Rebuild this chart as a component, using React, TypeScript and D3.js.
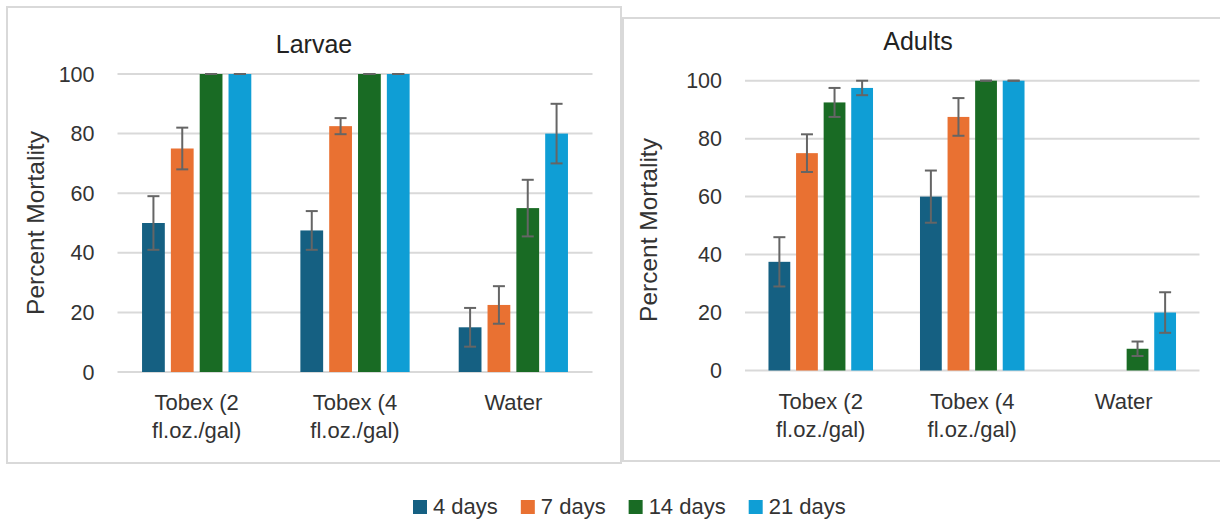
import React from 'react';
import * as d3 from 'd3';

const categories = ['Tobex (2|fl.oz./gal)', 'Tobex (4|fl.oz./gal)', 'Water'];
const series = ['4 days', '7 days', '14 days', '21 days'];
const colors = ['#156082', '#E97132', '#196B24', '#0F9ED5'];
const yTicks = [0, 20, 40, 60, 80, 100];

// values indexed [series][category]
const larvaeValues = [
  [50, 47.5, 15],
  [75, 82.5, 22.5],
  [100, 100, 55],
  [100, 100, 80],
];
const larvaeErrors = [
  [9, 6.5, 6.5],
  [7, 2.7, 6.3],
  [0, 0, 9.5],
  [0, 0, 10],
];
const adultValues = [
  [37.5, 60, 0],
  [75, 87.5, 0],
  [92.5, 100, 7.5],
  [97.5, 100, 20],
];
const adultErrors: (number | null)[][] = [
  [8.5, 9, null],
  [6.5, 6.5, null],
  [5, 0, 2.5],
  [2.5, 0, 7],
];

const FONT = "'Liberation Sans', Arial, sans-serif";
const TEXT = '#333333';

type PanelProps = {
  title: string;
  values: number[][];
  errors: (number | null)[][];
  frame: [number, number, number, number];
  plot: { x0: number; x1: number; top: number; bottom: number };
  titlePos: [number, number];
  yLabelPos: [number, number];
  catY: [number, number];
};

function Panel({ title, values, errors, frame, plot, titlePos, yLabelPos, catY }: PanelProps) {
  const x = d3.scaleBand<number>().domain(categories.map((_, i) => i)).range([plot.x0, plot.x1]).paddingInner(0.31).paddingOuter(0.155);
  const xs = d3.scaleBand<number>().domain(series.map((_, i) => i)).range([0, x.bandwidth()]).paddingInner(0.21);
  const y = d3.scaleLinear().domain([0, 100]).range([plot.bottom, plot.top]);
  const cap = 6;
  return (
    <g>
      <rect x={frame[0]} y={frame[1]} width={frame[2] - frame[0]} height={frame[3] - frame[1]} fill="#fff" stroke="#d9d9d9" strokeWidth={2} />
      <text x={titlePos[0]} y={titlePos[1]} textAnchor="middle" fontSize={25} fill="#222" fontFamily={FONT}>{title}</text>
      {yTicks.map((t) => (
        <g key={t}>
          <line x1={plot.x0} x2={plot.x1} y1={y(t)} y2={y(t)} stroke="#d9d9d9" strokeWidth={2} />
          <text x={plot.x0 - 23} y={y(t) + 7.5} textAnchor="end" fontSize={21.5} fill={TEXT} fontFamily={FONT}>{t}</text>
        </g>
      ))}
      <text transform={`translate(${yLabelPos[0]},${yLabelPos[1]}) rotate(-90)`} textAnchor="middle" fontSize={24.5} fill={TEXT} fontFamily={FONT}>Percent Mortality</text>
      {values.map((row, s) =>
        row.map((v, c) => {
          const bx = (x(c) ?? 0) + (xs(s) ?? 0);
          return (
            <rect key={`b${s}-${c}`} x={bx} y={y(v)} width={xs.bandwidth()} height={y(0) - y(v)} fill={colors[s]} />
          );
        })
      )}
      {values.map((row, s) =>
        row.map((v, c) => {
          const e = errors[s][c];
          if (e === null || e === undefined) return null;
          const cx = (x(c) ?? 0) + (xs(s) ?? 0) + xs.bandwidth() / 2;
          const hi = Math.min(100, v + e);
          const lo = v - e;
          return (
            <g key={`e${s}-${c}`} stroke="#656565" strokeWidth={2}>
              <line x1={cx} x2={cx} y1={y(hi)} y2={y(lo)} />
              <line x1={cx - cap} x2={cx + cap} y1={y(hi)} y2={y(hi)} />
              <line x1={cx - cap} x2={cx + cap} y1={y(lo)} y2={y(lo)} />
            </g>
          );
        })
      )}
      {categories.map((c, i) => {
        const cx = (x(i) ?? 0) + x.bandwidth() / 2;
        return c.split('|').map((line, k) => (
          <text key={`c${i}-${k}`} x={cx} y={catY[k]} textAnchor="middle" fontSize={22} fill={TEXT} fontFamily={FONT}>{line}</text>
        ));
      })}
    </g>
  );
}

function measure(text: string, font: string) {
  const ctx = document.createElement('canvas').getContext('2d');
  if (!ctx) return text.length * 11;
  ctx.font = font;
  return ctx.measureText(text).width;
}

function Legend({ x0, y0 }: { x0: number; y0: number }) {
  let cur = x0;
  const items = series.map((s, i) => {
    const w = measure(s, `22px ${FONT}`);
    const item = { s, i, x: cur };
    cur += 20 + w + 23;
    return item;
  });
  return (
    <g>
      {items.map((it) => (
        <g key={it.s}>
          <rect x={it.x} y={y0 - 14} width={14} height={14} fill={colors[it.i]} />
          <text x={it.x + 20} y={y0} fontSize={22} fill={TEXT} fontFamily={FONT}>{it.s}</text>
        </g>
      ))}
    </g>
  );
}

export default function App() {
  return (
    <svg width={1220} height={519} style={{ position: 'absolute', left: 0, top: 0, display: 'block', background: '#fff' }}>
      <rect x={0} y={0} width={1220} height={519} fill="#fff" />
      <Panel
        title="Larvae"
        values={larvaeValues}
        errors={larvaeErrors}
        frame={[7, 7, 621, 463]}
        plot={{ x0: 117.5, x1: 592.5, top: 74, bottom: 372 }}
        titlePos={[314, 53]}
        yLabelPos={[44, 223]}
        catY={[410, 438]}
      />
      <Panel
        title="Adults"
        values={adultValues}
        errors={adultErrors}
        frame={[623, 18, 1223, 461]}
        plot={{ x0: 745, x1: 1199.5, top: 80.7, bottom: 370.5 }}
        titlePos={[918, 50]}
        yLabelPos={[657, 230]}
        catY={[409, 437]}
      />
      <Legend x0={413} y0={514} />
    </svg>
  );
}
